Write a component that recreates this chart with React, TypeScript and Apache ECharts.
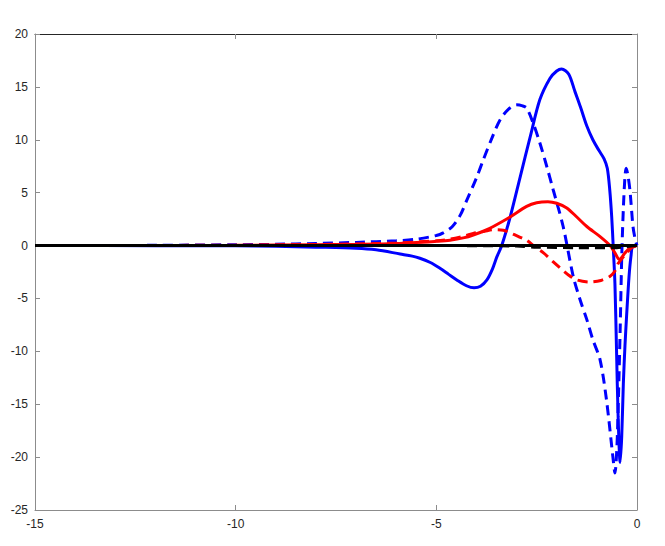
import React, { useEffect, useRef } from "react";
import * as echarts from "echarts";

const blueSolidX = [-15, -12, -10, -9, -8, -7, -6.5, -5.9, -5.6, -5.41, -5.15, -4.91, -4.7, -4.49, -4.25, -4.06, -3.9, -3.74, -3.6, -3.49, -3.37, -3.16, -2.91, -2.66, -2.42, -2.17, -2.0, -1.88, -1.7, -1.55, -1.4, -1.25, -1.1, -0.95, -0.82, -0.74, -0.68, -0.63, -0.59, -0.55, -0.51, -0.47, -0.42, -0.38, -0.34, -0.3, -0.26, -0.2, -0.15, -0.1, 0];
const blueSolidY = [0, -0.01, -0.03, -0.07, -0.15, -0.25, -0.4, -0.8, -1.0, -1.2, -1.6, -2.15, -2.7, -3.25, -3.8, -4.0, -3.85, -3.25, -2.2, -1.05, 0, 2.7, 6.5, 10.3, 13.8, 15.8, 16.5, 16.7, 16.2, 14.6, 13.0, 11.3, 10.0, 9.0, 8.2, 7.3, 5.3, 2.7, -0.3, -3.6, -9.9, -16.2, -20.5, -18, -13, -9.5, -6.7, -3, -1, 0, 0];

const blueDashX = [-15, -12, -10, -9, -8, -7, -6, -5.5, -5, -4.83, -4.6, -4.4, -4.24, -4.0, -3.83, -3.6, -3.41, -3.2, -3.0, -2.85, -2.75, -2.6, -2.42, -2.25, -2.09, -1.84, -1.59, -1.42, -1.25, -1.1, -0.92, -0.76, -0.6, -0.55, -0.5, -0.46, -0.42, -0.38, -0.34, -0.3, -0.27, -0.22, -0.17, -0.1, -0.04, 0];
const blueDashY = [0, 0.02, 0.08, 0.12, 0.2, 0.3, 0.45, 0.6, 0.95, 1.2, 1.8, 2.9, 4.3, 6.4, 8.1, 10.3, 11.9, 12.9, 13.3, 13.2, 13.0, 11.7, 9.7, 7.5, 5.3, 1.8, -2.9, -5.1, -7.0, -8.9, -10.8, -14.6, -20.0, -21.5, -19, -14, -8, -1, 3.5, 6.5, 7.3, 6.5, 5.0, 1.8, 0.5, 0];

const redSolidX = [-15, -10, -8, -7, -6, -5, -4.66, -4.3, -4.08, -3.8, -3.58, -3.16, -2.75, -2.5, -2.22, -2.0, -1.75, -1.5, -1.25, -0.92, -0.67, -0.55, -0.44, -0.3, -0.17, 0];
const redSolidY = [0, 0.02, 0.08, 0.12, 0.2, 0.4, 0.5, 0.75, 1.0, 1.4, 1.8, 2.7, 3.7, 4.05, 4.15, 4.0, 3.55, 2.7, 1.8, 0.85, 0, -0.7, -1.3, -0.7, -0.2, 0];

const redDashX = [-15, -10, -8, -7, -6, -5, -4.66, -4.3, -4.08, -3.8, -3.58, -3.33, -3.16, -2.95, -2.75, -2.55, -2.33, -2.1, -1.92, -1.7, -1.5, -1.17, -0.9, -0.67, -0.55, -0.47, -0.3, -0.13, 0];
const redDashY = [0, 0.03, 0.1, 0.15, 0.25, 0.45, 0.6, 0.9, 1.15, 1.35, 1.5, 1.45, 1.2, 0.85, 0.5, -0.1, -0.7, -1.5, -2.1, -2.8, -3.25, -3.45, -3.3, -2.9, -2.4, -1.7, -0.9, -0.2, 0];

const blackDashX = [-15, -5, -3, -2.5, -1.5, -0.5, -0.3, 0];
const blackDashY = [0, 0, -0.05, -0.15, -0.2, -0.2, -0.1, 0];

const blackSolidX = [-15, -5, 0];
const blackSolidY = [0, 0, 0];

const xTicks = [-15, -10, -5, 0];
const yTicks = [-25, -20, -15, -10, -5, 0, 5, 10, 15, 20];

const pairs = (xs: number[], ys: number[]) => xs.map((x, i) => [x, ys[i]]);

export default function App() {
  const ref = useRef<HTMLDivElement>(null);
  useEffect(() => {
    if (!ref.current) return;
    const chart = echarts.init(ref.current, undefined, { renderer: "svg" });
    const labelStyle = { color: "#262626", fontSize: 12, fontFamily: "Liberation Sans, Arial, sans-serif" };
    const mk = (name: string, xs: number[], ys: number[], color: string, dashed: boolean) => ({
      name,
      type: "line",
      data: pairs(xs, ys),
      showSymbol: false,
      smooth: 0.3,
      lineStyle: { color, width: 3, type: dashed ? [10, 6] : "solid", cap: "butt" },
      z: 2,
    });
    chart.setOption({
      animation: false,
      backgroundColor: "#ffffff",
      grid: { left: 35, right: 28, top: 34, bottom: 36 },
      xAxis: [
        {
          type: "value",
          min: xTicks[0],
          max: xTicks[xTicks.length - 1],
          interval: 5,
          position: "bottom",
          axisLine: { show: true, onZero: false, lineStyle: { color: "#8c8c8c", width: 1 } },
          axisTick: { show: true, inside: true, length: 5, lineStyle: { color: "#8c8c8c" } },
          axisLabel: { ...labelStyle, margin: 8 },
          splitLine: { show: false },
        },
        {
          type: "value",
          min: xTicks[0],
          max: xTicks[xTicks.length - 1],
          interval: 5,
          position: "top",
          axisLine: { show: true, onZero: false, lineStyle: { color: "#262626", width: 1 } },
          axisTick: { show: true, inside: true, length: 5, lineStyle: { color: "#8c8c8c" } },
          axisLabel: { show: false },
          splitLine: { show: false },
        },
      ],
      yAxis: [
        {
          type: "value",
          min: yTicks[0],
          max: yTicks[yTicks.length - 1],
          interval: 5,
          position: "left",
          axisLine: { show: true, onZero: false, lineStyle: { color: "#8c8c8c", width: 1 } },
          axisTick: { show: true, inside: true, length: 5, lineStyle: { color: "#8c8c8c" } },
          axisLabel: { ...labelStyle, margin: 7 },
          splitLine: { show: false },
        },
        {
          type: "value",
          min: yTicks[0],
          max: yTicks[yTicks.length - 1],
          interval: 5,
          position: "right",
          axisLine: { show: true, onZero: false, lineStyle: { color: "#8c8c8c", width: 1 } },
          axisTick: { show: true, inside: true, length: 5, lineStyle: { color: "#8c8c8c" } },
          axisLabel: { show: false },
          splitLine: { show: false },
        },
      ],
      series: [
        mk("blueSolid", blueSolidX, blueSolidY, "#0000ff", false),
        mk("blueDash", blueDashX, blueDashY, "#0000ff", true),
        mk("redSolid", redSolidX, redSolidY, "#ff0000", false),
        mk("redDash", redDashX, redDashY, "#ff0000", true),
        mk("blackDash", blackDashX, blackDashY, "#000000", true),
        mk("blackSolid", blackSolidX, blackSolidY, "#000000", false),
      ],
    });
    return () => chart.dispose();
  }, []);
  return <div ref={ref} style={{ width: 665, height: 546, marginLeft: -8, marginTop: -8 }} />;
}
